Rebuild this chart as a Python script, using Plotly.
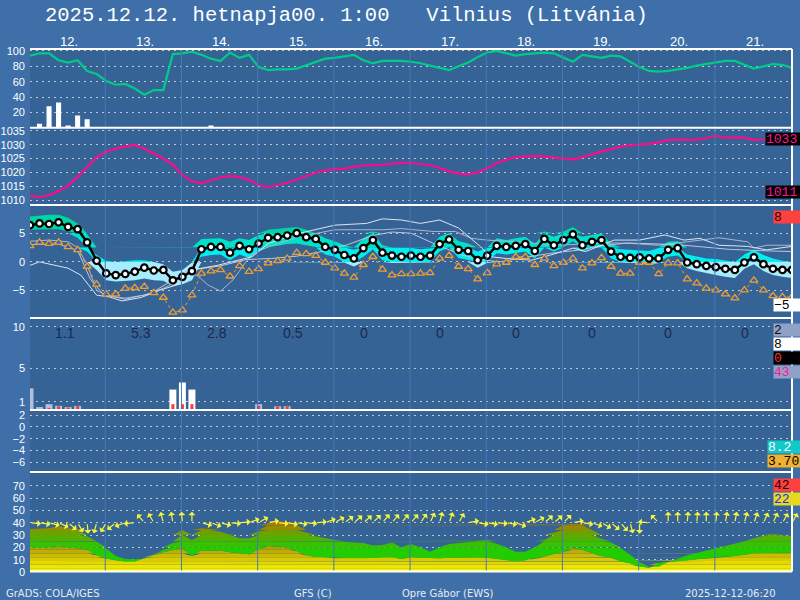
import math
import plotly.graph_objects as go

# ---------------- data ----------------
hours = list(range(0, 241, 3))  # forecast hours, 3-hourly

rh = [94,97,97,88,85,88,74,70,61,56,
      57,51,43,49,49,96,97,99,95,90,
      87,98,91,95,79,75,76,76,77,81,
      86,90,91,93,95,88,84,87,87,87,
      86,84,81,78,75,80,85,92,98,100,
      97,94,96,97,98,97,92,86,95,93,
      91,94,93,86,79,74,73,74,76,78,
      81,83,85,87,87,82,77,80,83,82,
      78]

p1_bar_hours = [3, 6, 9, 12, 15, 18, 57]
p1_bar_vals = [5, 28, 33, 3, 16, 11, 3]

pressure = [1011.7,1011.1,1011.8,1013.3,1015.2,1018.4,1022.0,1025.5,1027.4,1028.6,
            1029.3,1029.9,1028.5,1026.8,1025.0,1022.8,1019.0,1016.9,1016.1,1017.2,
            1018.2,1018.8,1018.3,1017.4,1015.5,1014.7,1015.4,1016.3,1017.5,1018.7,
            1020.0,1020.7,1021.2,1021.3,1022.1,1022.5,1022.6,1022.7,1023.1,1023.5,
            1023.4,1023.1,1022.6,1021.6,1020.4,1019.6,1019.3,1020.0,1021.5,1023.3,
            1024.6,1025.5,1025.8,1026.0,1025.7,1025.4,1025.0,1024.7,1025.5,1026.6,
            1027.5,1028.4,1029.3,1029.8,1030.0,1030.3,1030.8,1031.6,1031.9,1031.9,
            1031.7,1032.4,1033.2,1032.5,1032.5,1032.5,1031.7,1031.9,1032.0,1032.0,
            1032.0]

temp = [6.4,6.7,6.6,6.9,6.1,5.7,3.4,0.2,-2.0,-2.3,
        -2.1,-1.7,-1.0,-1.5,-1.4,-3.2,-2.6,-1.6,2.2,2.6,
        2.6,1.6,2.8,2.2,3.2,4.2,4.3,4.6,5.0,4.3,
        4.0,2.6,2.1,1.2,0.6,2.4,3.8,1.6,1.1,0.9,
        1.1,0.9,1.1,3.1,3.9,2.1,1.9,0.3,1.1,2.8,
        2.6,2.8,3.1,1.9,4.0,2.9,3.8,4.8,2.9,3.5,
        3.8,1.8,0.9,0.7,0.8,0.6,0.6,2.1,2.4,-0.1,
        -0.4,-0.7,-0.9,-1.2,-1.4,-0.1,0.8,-0.4,-1.2,-1.4,
        -1.4]

dewpoint = [2.8,3.4,3.2,3.4,2.6,2.1,-0.8,-3.9,-5.6,-5.6,
            -4.6,-4.5,-4.3,-5.4,-6.2,-8.8,-8.4,-5.8,-2.0,-1.6,
            -1.4,-2.5,-0.7,-1.7,-1.2,-0.2,0.2,0.6,1.6,1.4,
            1.1,-0.1,-1.1,-2.0,-2.7,-0.5,0.9,-1.3,-2.3,-2.1,
            -2.1,-2.0,-1.9,0.6,1.1,-0.8,-1.2,-3.0,-1.9,-0.4,
            -0.1,0.9,0.9,-0.5,0.6,-0.7,-0.1,0.6,-1.1,-0.2,
            0.7,-0.8,-2.0,-2.0,-0.1,-0.1,-2.1,-0.2,-0.2,-3.0,
            -3.7,-4.6,-4.9,-5.6,-6.3,-4.9,-3.2,-4.9,-5.9,-6.1,
            -6.1]

spread_hi = [7.9,8.05,8.2,8.2,7.7,6.7,4.8,1.2,0.2,0.0,
             0.2,0.3,0.3,0.0,-0.4,-1.7,-1.4,-0.1,4.0,4.1,
             4.1,3.5,4.1,3.8,4.7,5.6,5.8,6.0,6.1,5.6,
             5.0,4.1,3.6,2.9,2.1,4.1,5.3,2.9,2.5,
             2.5,2.4,2.2,2.4,4.4,5.1,3.6,3.2,1.8,2.4,
             4.1,3.8,4.1,4.4,3.1,5.3,4.4,5.3,6.1,4.4,
             4.7,5.0,3.1,2.2,2.1,2.1,1.9,2.4,3.5,3.6,
             1.3,0.9,0.6,0.5,0.3,0.0,1.3,2.1,1.2,0.6,
             0.2,0.0]

spread_lo = [5.6,5.7,5.7,5.7,5.3,4.2,1.8,-1.4,-3.2,-3.4,
             -3.3,-3.2,-2.9,-3.2,-3.3,-4.2,-3.9,-3.2,0.9,1.2,
             1.3,0.3,1.3,0.7,1.8,2.6,2.8,3.1,3.2,2.9,
             2.6,1.3,0.9,-0.1,-0.8,0.9,2.2,0.3,-0.2,
             -0.2,-0.1,-0.2,-0.1,1.8,2.6,0.7,0.3,-1.0,-0.2,
             1.5,1.3,1.5,1.8,0.6,2.6,1.8,2.6,3.6,1.8,
             2.4,2.5,0.6,-0.1,-0.2,-0.2,-0.4,-0.2,0.9,1.1,
             -1.1,-1.6,-2.0,-2.3,-2.6,-2.8,-1.2,-0.4,-1.6,-2.3,
             -2.6,-2.8]

m1_hours = [0,3,12,16,21,25,29,35,41,48,51,59,70,75,85,96,106,111,117,123,
            129,135,142,145,150,158,164,171,175,184,192,200,206,211,217,226,232,240]
m1_vals = [-0.6,0.0,-1.1,-2.3,-5.8,-6.1,-6.8,-6.2,-4.9,-3.7,-1.4,-0.6,0.9,3.2,5.0,6.4,6.7,7.5,7.3,6.7,
           7.3,5.9,2.6,0.9,0.6,0.3,1.2,2.4,1.8,3.8,3.8,4.7,3.8,4.1,2.9,2.7,2.1,2.7]
m2_hours = [0,6,12,15,18,21,25,30,36,42,46,49,53,56,60,64,68,71,78,85,
            96,111,117,127,134,139,144,150,156,163,170,178,184,190,198,207,217,226,228,232,240]
m2_vals = [3.6,3.8,3.5,2.5,-0.5,-5.0,-6.0,-6.3,-5.8,-4.6,-3.5,-1.7,-2.5,-4.0,-5.1,-3.1,0.0,1.8,3.2,4.4,
           5.6,5.6,5.8,5.3,5.3,4.1,3.8,3.6,3.4,3.0,3.0,3.2,3.3,3.2,2.9,3.5,4.2,3.5,2.4,2.9,2.9]
m3_hours = [0,9,15,19,23,30,38,46,52,60,68,76,84,92,100,108,114,120,128,136,
            142,148,156,164,172,180,188,196,204,212,220,228,236,240]
m3_vals = [3.0,3.1,2.0,-3.0,-5.6,-6.5,-5.5,-2.8,-1.3,-0.7,0.4,0.6,1.0,1.8,3.0,4.6,5.2,5.0,3.0,1.2,
           0.4,0.0,0.8,1.5,2.0,2.8,3.3,3.2,3.0,2.6,2.2,2.0,1.8,1.8]

mixed_hours = [0, 3, 6, 9, 12, 15, 72, 78, 81]
mixed_vals = [2.6, 0.35, 0.7, 0.5, 0.35, 0.5, 0.7, 0.45, 0.45]
rain_hours = [45, 48, 51]
rain_vals = [2.45, 3.3, 2.45]
conv_hours = [6, 9, 12, 15, 45, 48, 51, 72, 78, 81]
conv_vals = [0.25, 0.45, 0.3, 0.5, 0.7, 0.7, 0.7, 0.5, 0.45, 0.45]
day_totals = ["1.1", "5.3", "2.8", "0.5", "0", "0", "0", "0", "0", "0"]

wind = [19.7,19.7,19.7,21.0,19.7,19.2,18.0,13.5,11.0,9.5,
        8.4,8.4,11.1,14.0,16.0,17.8,19.2,13.0,17.5,17.5,
        17.3,16.0,15.0,14.3,18.6,21.1,20.5,19.7,17.0,13.5,
        12.2,11.9,11.1,11.1,11.1,11.1,11.5,11.9,11.9,10.5,
        11.9,11.5,11.1,11.1,11.5,11.7,11.9,11.7,11.6,10.6,
        9.5,8.5,9.5,11.0,12.5,14.5,16.5,19.5,18.0,15.5,
        13.0,11.5,8.5,7.0,4.5,3.5,7.3,8.2,8.8,9.5,
        10.3,11.0,11.9,12.2,13.0,14.0,15.2,15.5,15.7,15.7,
        15.7]
gust = [34.9,34.9,35.5,37.3,35.4,34.9,29.0,24.6,19.0,13.0,
        10.5,10.3,10.8,13.8,18.0,23.5,34.0,26.0,35.4,34.5,
        32.7,30.5,27.3,27.3,33.0,39.5,41.4,40.5,38.1,32.0,
        29.0,27.3,26.0,24.6,24.0,23.5,21.5,21.9,24.0,20.0,
        22.7,20.0,16.5,20.0,22.7,23.5,24.5,25.4,26.0,23.0,
        20.0,16.5,16.5,20.0,26.0,32.0,38.5,38.9,38.9,34.0,
        27.0,24.0,19.5,14.0,8.0,4.3,4.3,8.0,11.0,13.5,
        15.5,17.5,19.2,21.0,23.0,25.0,27.3,29.5,30.8,29.5,
        29.2]
wind_dir = [95,100,105,115,130,150,175,195,210,230,
            250,265,320,330,345,350,355,0,105,110,
            105,95,85,70,60,80,95,100,100,95,
            85,70,60,55,50,50,45,40,40,40,
            40,35,25,15,20,30,80,100,100,95,
            100,110,70,60,50,50,45,80,100,110,
            120,130,140,165,180,275,315,0,0,5,
            5,0,5,10,10,15,20,25,25,30,
            30]

day_labels = ["12.", "13.", "14.", "15.", "16.", "17.", "18.", "19.", "20.", "21."]
title_text = "2025.12.12. hetnapja00. 1:00   Vilnius (Litvánia)"
side_labels = ["1033", "1011", "8", "−5", "2", "8", "0", "43", "8.2", "3.70", "42", "22"]
footer = ["GrADS: COLA/IGES", "GFS (C)", "Opre Gábor (EWS)", "2025-12-12-06:20"]

# ---------------- layout geometry ----------------
W, H = 800, 600
ML, MR, MT, MB = 30, 8, 49, 28
PW = W - ML - MR
PH = H - MT - MB


def py(p):
    return (H - MB - p) / PH


def px(p):
    return (p - ML) / PW


X_RANGE = [0, 240]
HPX = PW / (X_RANGE[1] - X_RANGE[0])

BG_OUT = "#3e6fa8"
BG_IN = "#366396"
GRID = "rgba(215,215,215,0.85)"

fig = go.Figure()


def line(x, y, ax, color, width=1, **kw):
    fig.add_trace(go.Scatter(x=x, y=y, mode="lines", yaxis=ax, xaxis="x",
                             line=dict(color=color, width=width, **kw),
                             hoverinfo="skip", showlegend=False))


def fill_band(lo, hi, ax, color, x=hours):
    fig.add_trace(go.Scatter(x=x, y=lo, mode="lines", yaxis=ax, xaxis="x",
                             line=dict(width=0), hoverinfo="skip", showlegend=False))
    fig.add_trace(go.Scatter(x=x, y=hi, mode="lines", yaxis=ax, xaxis="x", fill="tonexty",
                             fillcolor=color, line=dict(width=0), hoverinfo="skip",
                             showlegend=False))


def clip(vals, a, b):
    return [min(max(v, a), b) for v in vals]


# Panel 1: humidity + bars
fig.add_trace(go.Bar(x=p1_bar_hours, y=p1_bar_vals, width=1.6, marker=dict(color="white", line=dict(width=0)),
                     yaxis="y", xaxis="x", hoverinfo="skip", showlegend=False))
line(hours, rh, "y", "#00cc88", 2.2)

# Panel 2: pressure
line(hours, pressure, "y2", "#ff0a8c", 2.2)

# Panel 3: temperature
t_levels = [(-99, 0, "#a6ecfc"), (0, 2.5, "#00eeee"), (2.5, 5, "#00e2c8"), (5, 99, "#00d4a4")]
for a, b, c in t_levels:
    fill_band(clip(spread_lo, a, b), clip(spread_hi, a, b), "y3", c)
line(m2_hours, m2_vals, "y3", "#a9b5cd", 1)
line(m3_hours, m3_vals, "y3", "#bcc6da", 1)
line(m1_hours, m1_vals, "y3", "#dde4f0", 1)
fig.add_trace(go.Scatter(x=hours, y=dewpoint, mode="lines+markers", yaxis="y3", xaxis="x",
                         line=dict(color="#f0a020", width=1, dash="dot"),
                         marker=dict(symbol="triangle-up", size=7, color="#2f5ccc",
                                     line=dict(color="#f0a020", width=1.3)),
                         hoverinfo="skip", showlegend=False))
fig.add_trace(go.Scatter(x=hours, y=temp, mode="lines+markers", yaxis="y3", xaxis="x",
                         line=dict(color="black", width=2.5),
                         marker=dict(symbol="circle", size=6.5, color="white",
                                     line=dict(color="black", width=2.2)),
                         hoverinfo="skip", showlegend=False))

# Panel 4: precipitation
fig.add_trace(go.Bar(x=mixed_hours, y=mixed_vals, width=2.2, marker=dict(color="#b2c0dc", line=dict(width=0)),
                     yaxis="y4", xaxis="x", hoverinfo="skip", showlegend=False))
fig.add_trace(go.Bar(x=rain_hours, y=rain_vals, width=2.2, marker=dict(color="white", line=dict(width=0)),
                     yaxis="y4", xaxis="x", hoverinfo="skip", showlegend=False))
fig.add_trace(go.Bar(x=conv_hours, y=conv_vals, width=0.95, marker=dict(color="#ff3838", line=dict(width=0)),
                     yaxis="y4", xaxis="x", hoverinfo="skip", showlegend=False))

# Panel 5: empty axis - invisible trace to create subplot
fig.add_trace(go.Scatter(x=[None], y=[None], yaxis="y5", xaxis="x", mode="lines",
                         hoverinfo="skip", showlegend=False))

# Panel 6: wind / gust
w_levels = [(0, 3, "#f8f400"), (3, 6, "#eee600"), (6, 9, "#e4d800"), (9, 12, "#d8ca00"),
            (12, 15, "#ccbc00"), (15, 18, "#bfae00"), (18, 40, "#b2a000")]
for a, b, c in w_levels:
    fill_band(clip([0] * len(wind), a, b), clip(wind, a, b), "y6", c)
g_levels = [(0, 20, "#22cc00"), (20, 25, "#36c200"), (25, 30, "#54b000"), (30, 34, "#739e00"),
            (34, 38, "#928c00"), (38, 60, "#b27600")]
for a, b, c in g_levels:
    fill_band(clip(wind, a, b), clip(gust, a, b), "y6", c)

annotations = []
# wind arrows
ARROW_Y = 40
ARROW_LEN = 11
y6_range = [0, 81.1]
y6_px = (py(472) - 0) * PH / (y6_range[1] - y6_range[0])
for h, d in zip(hours, wind_dir):
    r = math.radians(d)
    hx = h + ARROW_LEN * math.sin(r) / HPX
    hy = ARROW_Y + ARROW_LEN * math.cos(r) / y6_px
    annotations.append(dict(x=hx, y=hy, ax=h, ay=ARROW_Y, xref="x", yref="y6", axref="x", ayref="y6",
                            showarrow=True, arrowhead=1, arrowsize=1.0, arrowwidth=1.2,
                            arrowcolor="#f6f63c", text="", standoff=0))

# Day lines and separators
MID0 = 23.7
shapes = []
for k in range(9):
    xm = MID0 + 24 * k
    shapes.append(dict(type="line", xref="x", yref="paper", x0=xm, x1=xm, y0=0, y1=1,
                       line=dict(color="#4678ba", width=1), layer="above"))
for p in [49, 127.7, 205, 318, 410, 472, 571.5]:
    shapes.append(dict(type="line", xref="paper", yref="paper", x0=0, x1=1, y0=py(p), y1=py(p),
                       line=dict(color="white", width=2), layer="above"))
shapes.append(dict(type="line", xref="paper", yref="paper", x0=1, x1=1, y0=py(571.5), y1=py(49),
                   line=dict(color="white", width=2), layer="above"))

# title
annotations.append(dict(text=title_text, xref="paper", yref="paper", x=px(346.5), y=py(15.5),
                        xanchor="center", yanchor="middle", showarrow=False,
                        font=dict(family="Liberation Mono", size=20.5, color="white")))
# day labels
for k, lab in enumerate(day_labels):
    xc = MID0 - 12 + 24 * k + 0.6
    annotations.append(dict(text=lab, xref="x", yref="paper", x=xc, y=py(42), xanchor="center",
                            yanchor="middle", showarrow=False,
                            font=dict(family="Liberation Sans", size=13, color="white")))
# daily precipitation totals
for k, lab in enumerate(day_totals):
    xl = MID0 - 24 + 24 * k + 7.5
    annotations.append(dict(text=lab, xref="x", yref="paper", x=xl, y=py(333.3), xanchor="left",
                            yanchor="middle", showarrow=False,
                            font=dict(family="Liberation Sans", size=14, color="#1c2a4c")))

# side value boxes
box_specs = [
    (765, 139.3, "#000000", "#ff1493"),
    (765, 192.3, "#000000", "#ff1493"),
    (772.7, 217, "#ff4040", "#300000"),
    (772.7, 305, "#ffffff", "#000000"),
    (772.7, 330, "#8ea2c8", "#101010"),
    (772.7, 344.3, "#ffffff", "#000000"),
    (772.7, 357.7, "#000000", "#ff3030"),
    (772.7, 372.3, "#8ea2c8", "#ff1493"),
    (766.7, 446.7, "#12c8c8", "#ffffff"),
    (766.7, 460.7, "#f0b030", "#000000"),
    (772.7, 485, "#ff4040", "#200000"),
    (772.7, 499.3, "#e8d820", "#2030ff"),
]
for lab, (xl, yc, bg, fg) in zip(side_labels, box_specs):
    annotations.append(dict(text=lab, xref="paper", yref="paper", x=px(xl), y=py(yc),
                            xanchor="left", yanchor="middle", showarrow=False, align="left",
                            bgcolor=bg, borderpad=0, width=int(800 - xl), height=12,
                            font=dict(family="Liberation Mono", size=13, color=fg)))

# footer
for lab, xl in zip(footer, [4, 291.7, 400, 683.3]):
    annotations.append(dict(text=lab, xref="paper", yref="paper", x=px(xl), y=py(593),
                            xanchor="left", yanchor="middle", showarrow=False,
                            font=dict(family="DejaVu Sans", size=10, color="#e6ebf4")))

tickfont = dict(family="Liberation Sans", size=11, color="white")


def yax(dom, rng, ticks):
    return dict(domain=dom, range=rng, tickvals=ticks, showgrid=True, gridcolor=GRID,
                griddash="2px,4px", gridwidth=1, zeroline=False, showline=False, ticks="",
                tickfont=tickfont, anchor="x", fixedrange=True, ticklabelstandoff=4,
                automargin=False)


fig.update_layout(
    template="none",
    width=W, height=H,
    margin=dict(l=ML, r=MR, t=MT, b=MB, pad=0, autoexpand=False),
    paper_bgcolor=BG_OUT, plot_bgcolor=BG_IN,
    barmode="overlay", showlegend=False, hovermode=False,
    xaxis=dict(domain=[0, 1], range=X_RANGE, anchor="y6", visible=False, fixedrange=True,
               automargin=False),
    yaxis=yax([py(127.7), 1], [0, 102.6], [20, 40, 60, 80, 100]),
    yaxis2=yax([py(205), py(127.7)], [1008.3, 1036.1], [1010, 1015, 1020, 1025, 1030, 1035]),
    yaxis3=yax([py(318), py(205)], [-9.77, 9.91], [-5, 0, 5]),
    yaxis4=yax([py(410), py(318)], [0, 11.04], [1, 5, 10]),
    yaxis5=yax([py(472), py(410)], [-7.64, 2.85], [-6, -4, -2, 0, 2]),
    yaxis6=yax([0, py(472)], y6_range, [0, 10, 20, 30, 40, 50, 60, 70]),
    shapes=shapes,
    annotations=annotations,
)

fig.write_html("out.html", config={"displayModeBar": False},
               post_script="document.body.style.margin='0';document.body.style.overflow='hidden';")
